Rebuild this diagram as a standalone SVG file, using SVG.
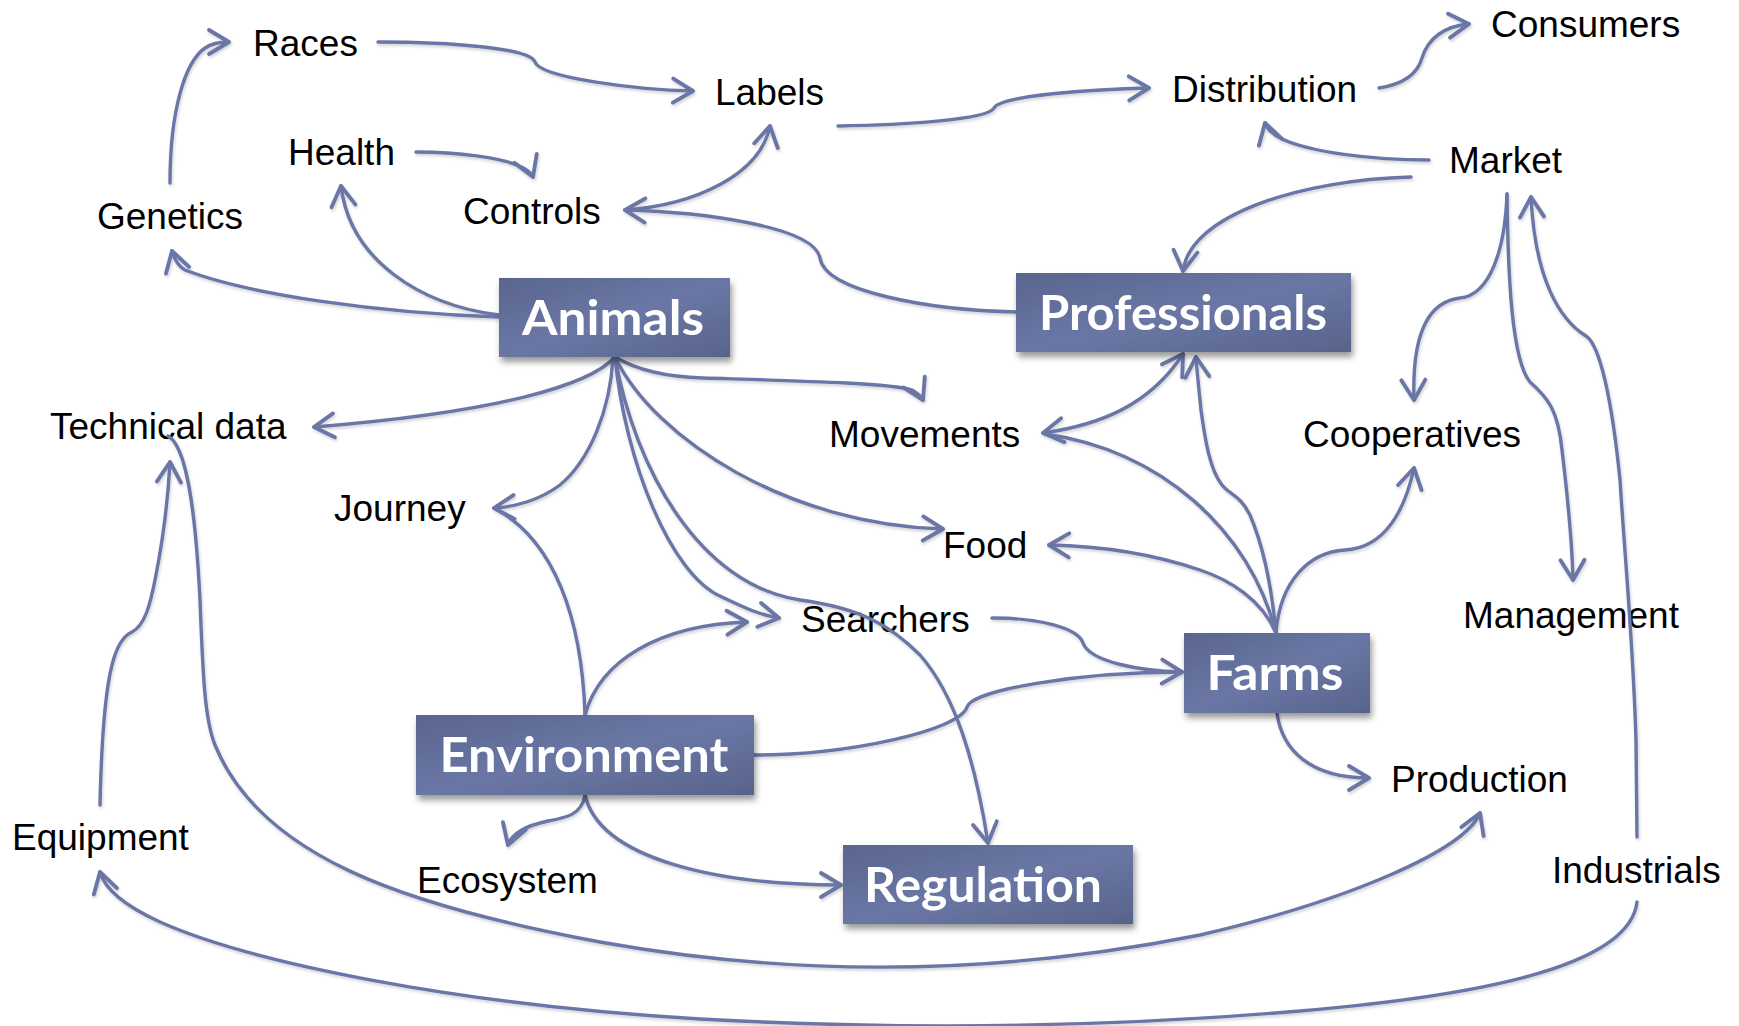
<svg xmlns="http://www.w3.org/2000/svg" width="1739" height="1026" viewBox="0 0 1739 1026">
<style>
.lbl{font-family:"Liberation Sans",Arial,sans-serif;font-size:37px;fill:#000}
.box{fill:url(#bg);filter:url(#bs)}
.bt{font-family:Lato,"Open Sans",sans-serif;font-weight:700;font-size:48px;fill:#fff;text-anchor:middle}
.c{fill:none;stroke:#6a76a6;stroke-width:3.4;stroke-linecap:round;stroke-linejoin:round}
.ar{marker-end:url(#a)}
</style>
<defs>
<linearGradient id="bg" x1="0" y1="0" x2="1" y2="1">
<stop offset="0" stop-color="#5a658e"/>
<stop offset="0.5" stop-color="#6a77a5"/>
<stop offset="1" stop-color="#58638b"/>
</linearGradient>
<filter id="bs" x="-10%" y="-20%" width="125%" height="150%">
<feDropShadow dx="2" dy="5" stdDeviation="3" flood-color="#000" flood-opacity="0.4"/>
</filter>
<filter id="ls" x="-5%" y="-5%" width="110%" height="110%">
<feDropShadow dx="1" dy="2" stdDeviation="1.5" flood-color="#000" flood-opacity="0.18"/>
</filter>
<marker id="a" markerUnits="userSpaceOnUse" markerWidth="32" markerHeight="32" viewBox="-22 -14 28 28" refX="0" refY="0" orient="auto-start-reverse">
<path d="M-17.5,-10.5 L0,0 L-17.5,10.5" fill="none" stroke="#6a76a6" stroke-width="3.4" stroke-linecap="round" stroke-linejoin="round"/>
</marker>
</defs>
<rect width="1739" height="1026" fill="#fff"/>

<g id="labels">
<g id="races"><text class="lbl" x="253" y="56">Races</text></g>
<g id="labels-node"><text class="lbl" x="715" y="105">Labels</text></g>
<g id="distribution"><text class="lbl" x="1172" y="102">Distribution</text></g>
<g id="consumers"><text class="lbl" x="1491" y="37">Consumers</text></g>
<g id="market"><text class="lbl" x="1449" y="173">Market</text></g>
<g id="health"><text class="lbl" x="288" y="165">Health</text></g>
<g id="genetics"><text class="lbl" x="97" y="229">Genetics</text></g>
<g id="controls"><text class="lbl" x="463" y="224">Controls</text></g>
<g id="technical-data"><text class="lbl" x="50" y="439">Technical data</text></g>
<g id="journey"><text class="lbl" x="334" y="521">Journey</text></g>
<g id="movements"><text class="lbl" x="829" y="447">Movements</text></g>
<g id="food"><text class="lbl" x="943" y="558">Food</text></g>
<g id="searchers"><text class="lbl" x="801" y="632">Searchers</text></g>
<g id="cooperatives"><text class="lbl" x="1303" y="447">Cooperatives</text></g>
<g id="management"><text class="lbl" x="1463" y="628">Management</text></g>
<g id="production"><text class="lbl" x="1391" y="792">Production</text></g>
<g id="industrials"><text class="lbl" x="1552" y="883">Industrials</text></g>
<g id="equipment"><text class="lbl" x="12" y="850">Equipment</text></g>
<g id="ecosystem"><text class="lbl" x="417" y="893">Ecosystem</text></g>
</g>

<g id="connectors" filter="url(#ls)">
<path class="c ar" d="M170,183 C170,110 185,62 205,48 C212,43 220,42 229,42"/>
<path class="c ar" d="M378,42 C450,42 530,48 535,62 C540,78 640,90 693,91"/>
<path class="c ar" d="M416,152 C460,152 500,158 517,165 C525,168 531,172 533,177"/>
<path class="c ar" d="M499,315 C420,305 350,260 341,186"/>
<path class="c ar" d="M499,317 C380,313 250,295 185,270 C178,266 174,258 172,251"/>
<path class="c ar" d="M625,210 C695,205 760,175 770,126"/>
<path class="c ar" d="M1016,312 C930,310 825,292 820,258 C814,226 700,212 625,210"/>
<path class="c ar" d="M838,126 C900,125 988,120 994,108 C1000,95 1100,89 1149,88"/>
<path class="c ar" d="M1379,88 C1405,84 1418,72 1422,58 C1428,38 1445,26 1469,24"/>
<path class="c ar" d="M1429,160 C1370,160 1310,152 1282,139 C1274,135 1267,130 1265,123"/>
<path class="c ar" d="M1411,177 C1300,180 1190,215 1183,271"/>
<path class="c ar" d="M1507,194 C1505,250 1490,295 1460,298 C1425,302 1412,340 1414,400"/>
<path class="c ar" d="M1507,194 C1508,280 1512,360 1530,382 C1548,398 1558,410 1562,450 C1568,500 1572,540 1573,580"/>
<path class="c ar" d="M1637,837 L1636,740 C1633,640 1625,560 1620,480 C1612,400 1600,345 1586,336 C1560,320 1535,280 1531,197"/>
<path class="c ar" d="M1276,633 C1280,580 1310,552 1345,550 C1385,548 1405,510 1414,468"/>
<path class="c ar" d="M1276,633 C1272,590 1265,550 1250,515 C1240,495 1230,495 1222,485 C1210,470 1205,440 1201,410 C1199,390 1197,372 1196,357"/>
<path class="c" style="marker-start:url(#a);marker-end:url(#a)" d="M1043,433 C1100,425 1150,405 1183,354"/>
<path class="c" d="M1276,633 C1250,530 1160,450 1045,434"/>
<path class="c ar" d="M1276,633 C1262,600 1230,580 1200,570 C1150,553 1100,546 1049,545"/>
<path class="c ar" d="M992,618 C1040,618 1078,628 1083,643 C1090,662 1140,671 1182,672"/>
<path class="c" d="M754,755 C850,755 960,730 967,707 C972,690 1080,672 1182,672"/>
<path class="c ar" d="M1277,713 C1282,750 1310,778 1369,778"/>
<path class="c ar" d="M615,357 C640,372 670,377 703,378 C800,381 890,383 912,390 C917,393 921,396 923,400"/>
<path class="c ar" d="M615,357 C655,440 790,525 943,529"/>
<path class="c ar" d="M615,357 C625,460 670,575 722,597 C745,608 760,615 779,618"/>
<path class="c ar" d="M615,357 C635,470 700,585 800,600 C860,608 890,625 920,655 C955,695 975,760 988,843"/>
<path class="c ar" d="M613,358 C610,410 590,460 560,485 C540,500 515,507 494,508"/>
<path class="c ar" d="M615,357 C590,385 500,412 314,427"/>
<path class="c" d="M585,715 C582,620 555,540 494,508"/>
<path class="c ar" d="M585,715 C600,660 660,625 747,622"/>
<path class="c ar" d="M585,795 C582,815 565,818 548,821 C525,826 512,833 508,845"/>
<path class="c ar" d="M585,795 C600,860 720,885 841,885"/>
<path class="c ar" d="M100,805 C101,760 103,700 112,665 C117,645 125,635 132,632 C145,625 150,605 155,580 C163,540 168,500 170,462"/>
<path class="c ar" d="M168,436 C185,445 195,500 200,600 C203,680 205,720 215,745 C260,855 400,905 600,942 C800,978 1000,975 1200,935 C1350,900 1465,850 1480,813"/>
<path class="c ar" d="M1637,902 C1630,962 1500,994 1300,1011 C1100,1028 900,1030 700,1019 C450,1004 250,962 160,922 C125,906 105,890 100,872"/>
</g>

<g id="animals"><rect class="box" x="499" y="278" width="231" height="79"/><text class="bt" x="613" y="335" textLength="182" lengthAdjust="spacingAndGlyphs">Animals</text></g>
<g id="professionals"><rect class="box" x="1016" y="273" width="335" height="79"/><text class="bt" x="1183" y="330" textLength="288" lengthAdjust="spacingAndGlyphs">Professionals</text></g>
<g id="farms"><rect class="box" x="1184" y="633" width="186" height="80"/><text class="bt" x="1275" y="690" textLength="137" lengthAdjust="spacingAndGlyphs">Farms</text></g>
<g id="environment"><rect class="box" x="416" y="715" width="338" height="80"/><text class="bt" x="584" y="772" textLength="289" lengthAdjust="spacingAndGlyphs">Environment</text></g>
<g id="regulation"><rect class="box" x="843" y="845" width="290" height="79"/><text class="bt" x="983" y="902" textLength="238" lengthAdjust="spacingAndGlyphs">Regulation</text></g>
</svg>
